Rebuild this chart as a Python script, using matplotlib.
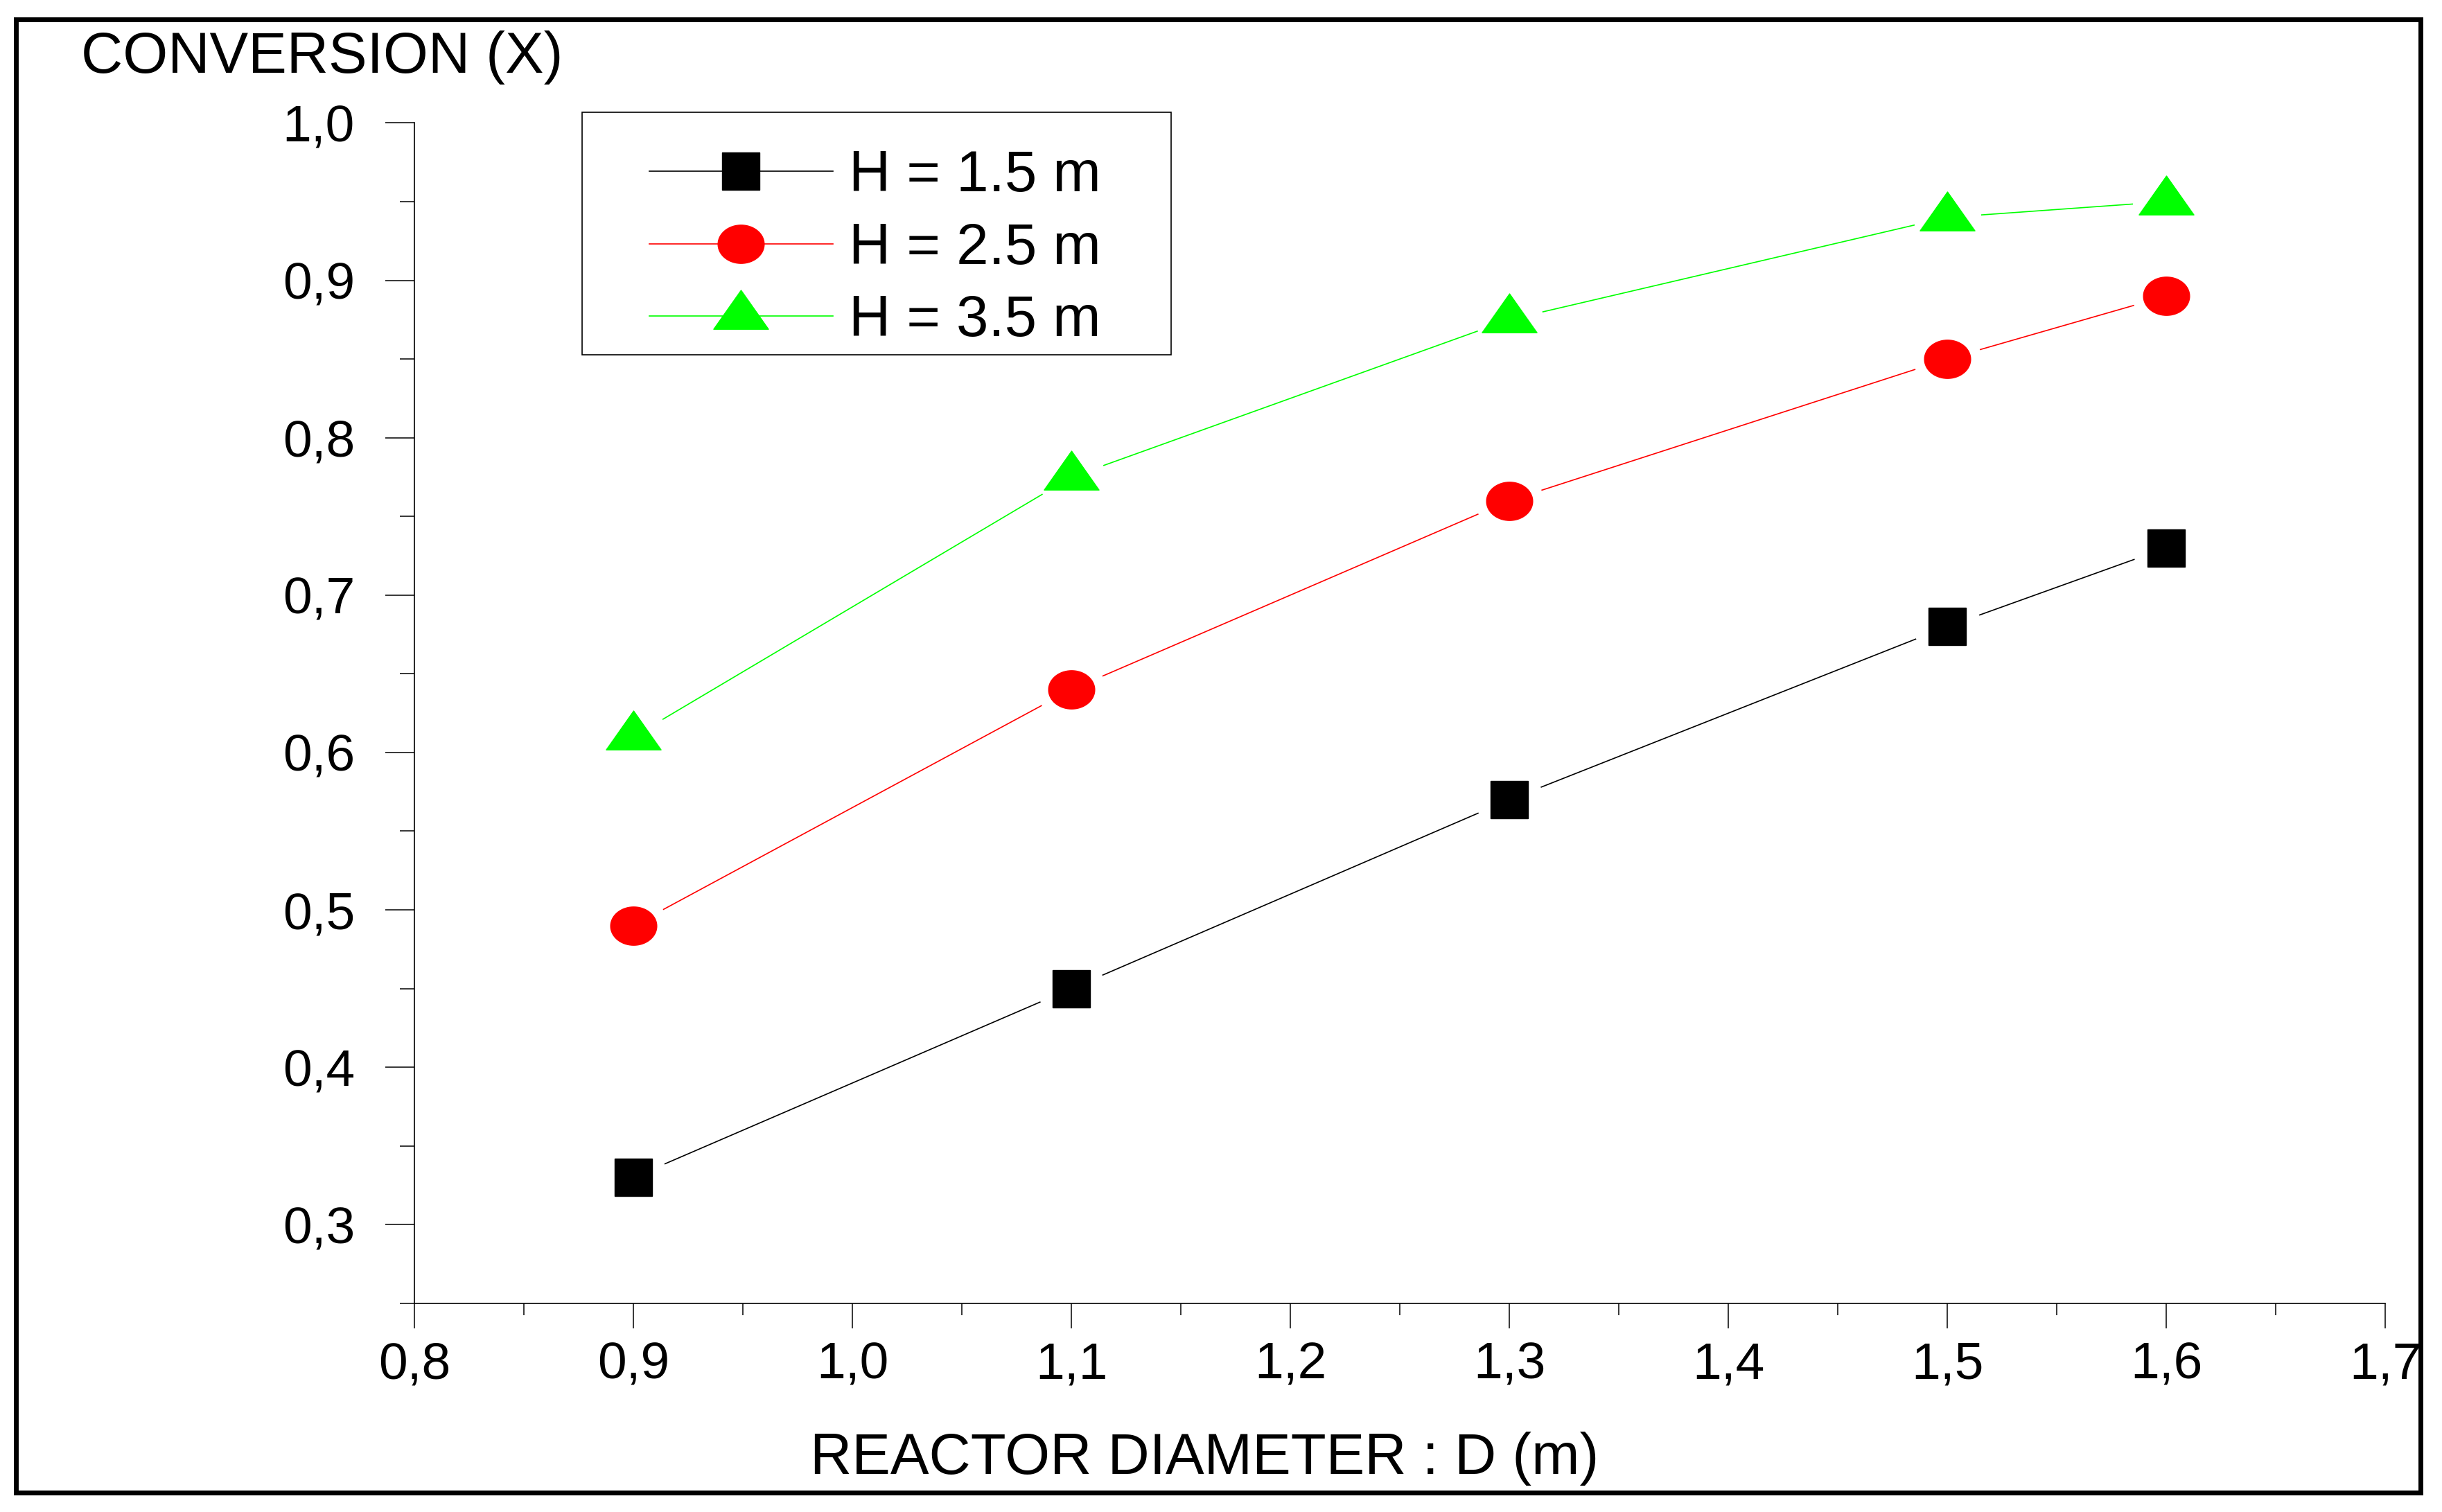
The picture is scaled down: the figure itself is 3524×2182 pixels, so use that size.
import numpy as np
import matplotlib
matplotlib.use('Agg')
import matplotlib.pyplot as plt
from matplotlib.path import Path
from matplotlib.lines import Line2D
from matplotlib.patches import Rectangle
from matplotlib.ticker import MultipleLocator, FuncFormatter

plt.rcParams['font.family'] = ['Liberation Sans', 'DejaVu Sans']

# data
diameter = [0.9, 1.1, 1.3, 1.5, 1.6]
conv_h15 = [0.33, 0.45, 0.57, 0.68, 0.73]
conv_h25 = [0.49, 0.64, 0.76, 0.85, 0.89]
conv_h35 = [0.61, 0.775, 0.875, 0.94, 0.95]
series = [conv_h15, conv_h25, conv_h35]
labels = ['H = 1.5 m', 'H = 2.5 m', 'H = 3.5 m']
colors = ['black', '#ff0000', '#00ff00']

# marker shapes: flat ellipse, and a wide triangle centred on its centroid
t = np.linspace(0, 2 * np.pi, 80)
ellipse = Path(np.column_stack([np.cos(t), 0.83 * np.sin(t)]), closed=True)
triangle = Path([(-1, -0.473), (1, -0.473), (0, 0.947), (-1, -0.473)], closed=True)
markers = ['s', ellipse, triangle]
msizes = [39, 48, 57]

fig = plt.figure(figsize=(35.24, 21.82), dpi=100)
ax = fig.add_axes([0.1697, 0.138, 0.8071, 0.7807])

for y, c, m, ms in zip(series, colors, markers, msizes):
    ax.plot(diameter, y, '-', color=c, lw=1.2, zorder=2)
    # white disc so the line stops short of each marker
    ax.plot(diameter, y, ls='none', marker='o', ms=69, color='white', zorder=3)
    ax.plot(diameter, y, ls='none', marker=m, ms=ms, color=c, mec=c, zorder=4)

ax.set_xlim(0.8, 1.7)
ax.set_ylim(0.25, 1.0)
ax.xaxis.set_major_locator(MultipleLocator(0.1))
ax.xaxis.set_minor_locator(MultipleLocator(0.05))
ax.yaxis.set_major_locator(MultipleLocator(0.1))
ax.yaxis.set_minor_locator(MultipleLocator(0.05))
fmt = FuncFormatter(lambda v, p: f"{v:.1f}".replace('.', ','))
ax.xaxis.set_major_formatter(fmt)
ax.yaxis.set_major_formatter(fmt)

for s in ['top', 'right']:
    ax.spines[s].set_visible(False)
for s in ['left', 'bottom']:
    ax.spines[s].set_linewidth(1.2)

ax.tick_params(which='both', direction='out', width=1.1, labelsize=54)
ax.tick_params(axis='y', which='major', length=30, pad=32)
ax.tick_params(axis='y', which='minor', length=15)
ax.tick_params(axis='x', which='major', length=26, pad=13)
ax.tick_params(axis='x', which='minor', length=12)

ax.set_ylabel('CONVERSION (X)', fontsize=60, rotation=0, ha='left', va='center')
ax.yaxis.set_label_coords(-0.169, 1.0555)
ax.set_xlabel('REACTOR DIAMETER : D (m)', fontsize=60, ha='center', va='center')
ax.xaxis.set_label_coords(0.4008, -0.1315)

handles = [Line2D([], [], color=c, lw=1.2, marker=m, ms=ms)
           for c, m, ms in zip(colors, markers, msizes)]
ax.legend(handles, labels, loc='upper left', bbox_to_anchor=(0.1083, 0.996),
          borderaxespad=0, frameon=False, fontsize=60, borderpad=0.37,
          handlelength=3.18, handletextpad=0.28, labelspacing=0.32)

# legend frame and outer border
fig.patches.append(Rectangle((0.2384, 0.7654), 0.2412, 0.1604, transform=fig.transFigure,
                             fill=False, ec='black', lw=1.2))
fig.patches.append(Rectangle((0.00653, 0.01306), 0.98467, 0.97388, transform=fig.transFigure,
                             fill=False, ec='black', lw=5))

fig.savefig('out.png', dpi=100, facecolor='white')
